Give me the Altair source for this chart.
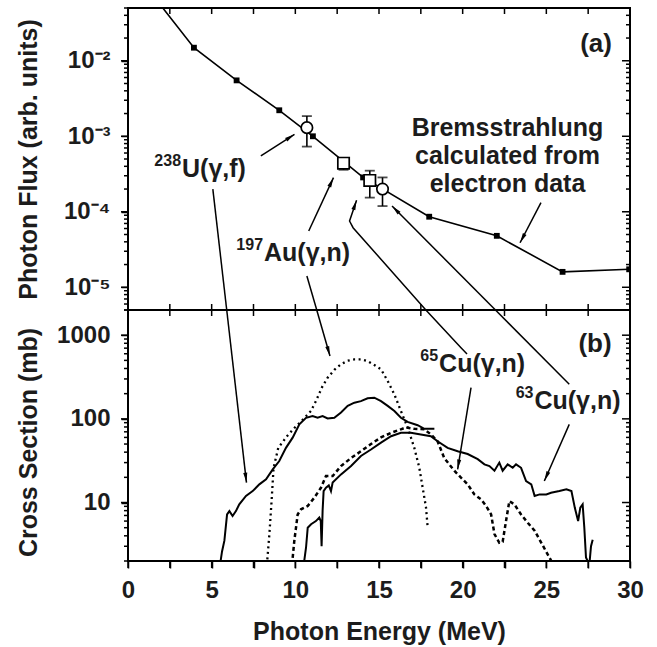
import altair as alt
import pandas as pd

FONT = "Liberation Sans"
INK = "#1c1c1c"
W, H_TOP, H_BOT = 502, 302, 251

# ---------------- panel (a): photon flux ----------------
brems_E = [1.8, 3.94, 6.49, 9.04, 11.05, 14.05, 18.0, 22.04, 25.97, 29.95]
brems_F = [0.06, 0.0149, 0.0055, 0.00221, 0.00100, 2.85e-4, 8.6e-5, 4.8e-5, 1.6e-5, 1.73e-5]
brems_marker = [False, True, True, True, True, True, True, True, True, True]

act_name = ["238U(γ,f)", "197Au(γ,n)", "65Cu(γ,n)", "63Cu(γ,n)"]
act_E = [10.69, 12.88, 14.45, 15.21]
act_F = [1.30e-3, 4.4e-4, 2.6e-4, 2.0e-4]
act_lo = [7.3e-4, 3.6e-4, 1.54e-4, 1.19e-4]
act_hi = [1.85e-3, 5.1e-4, 3.5e-4, 2.85e-4]
act_shape = ["circle", "square", "square", "circle"]

# ---------------- panel (b): cross sections ----------------
u_E = [5.50, 5.62, 5.76, 5.92, 6.06, 6.25, 6.45, 6.65, 7.05, 7.45, 7.85, 8.25, 8.65, 9.04,
       9.44, 9.84, 10.24, 10.64, 11.03, 11.33, 11.63, 11.93, 12.33, 12.73, 13.13, 13.53,
       13.92, 14.32, 14.72, 15.12, 15.52, 15.92, 16.31, 16.71, 17.31, 17.71, 18.31]
u_S = [1.8, 2.6, 3.5, 7.2, 7.9, 6.9, 7.9, 9.5, 12.0, 13.7, 16.5, 18.9, 24.9, 31.3,
       45, 59.6, 86, 103, 108, 103, 108, 101, 103, 119, 143, 156,
       163, 176, 179, 163, 143, 124, 103, 92, 84, 76, 76]

au_E = [8.30, 8.45, 8.58, 8.70, 8.98, 9.5, 10.0, 10.5, 10.93, 11.23, 11.6, 11.93, 12.33,
        12.73, 13.13, 13.53, 13.92, 14.32, 14.72, 15.12, 15.52, 15.92, 16.31, 16.71,
        17.11, 17.41, 17.61, 17.81, 17.91]
au_S = [1.8, 4.2, 10.4, 26, 45, 62, 80, 100, 124, 163, 240, 310, 385,
        449, 495, 514, 515, 490, 440, 391, 283, 196, 124, 79,
        45, 26, 15, 8.7, 5.0]

cu65_E = [9.80, 9.94, 10.14, 10.34, 10.74, 11.13, 11.53, 11.83, 12.23, 12.73, 13.33, 13.92,
          14.52, 15.12, 15.72, 16.31, 16.61, 17.11, 17.71, 18.11, 18.5, 18.9, 19.5, 19.9,
          20.3, 20.7, 21.1, 21.4, 21.7, 21.9, 22.19, 22.39, 22.59, 22.79, 23.09, 23.49,
          23.9, 24.3, 24.7, 25.08, 25.3]
cu65_S = [1.8, 3.5, 7.2, 8.3, 9.1, 11.4, 15, 20.7, 20.7, 27.3, 34, 41,
          50, 60, 68, 75, 79, 76, 75, 65, 54, 34, 24, 19.8,
          16.5, 12.5, 10.9, 9.1, 7.2, 4.2, 3.3, 3.4, 6.0, 10.4, 9.5, 7.2,
          5.7, 4.6, 3.3, 2.4, 2.0]

cu63_E = [10.50, 10.64, 10.74, 10.94, 11.23, 11.43, 11.52, 11.57, 11.63, 11.69, 11.83, 12.0,
          12.13, 12.23, 12.73, 13.33, 13.92, 14.52, 15.12, 15.72, 16.31, 16.9, 17.5, 18.1,
          18.5, 19.1, 19.7, 20.3, 20.9, 21.3, 21.6, 21.9, 22.19, 22.39, 22.69, 22.99,
          23.19, 23.49, 23.79, 24.1, 24.3, 24.6, 25.0, 25.28, 25.78, 26.2, 26.5, 26.7,
          26.9, 27.03, 27.17, 27.27, 27.37, 27.57, 27.67, 27.77]
cu63_S = [1.8, 2.9, 5.0, 5.5, 6.0, 6.6, 6.0, 3.0, 8.0, 13.7, 15, 16,
          13.7, 17.3, 21.7, 27.3, 36, 43, 52, 62, 68, 68, 65, 62,
          54, 45, 41, 38, 33, 28.6, 27.3, 24, 30, 24, 28.6, 26,
          28.6, 26, 18, 16.5, 12, 12.5, 12.5, 13.1, 13.7, 14.4, 13.7, 8.7,
          6.0, 8.7, 9.5, 5.0, 2.2, 1.8, 3.0, 3.6]

# ---------------- annotations ----------------
top_text = ["(a)", "Bremsstrahlung", "calculated from", "electron data"]
top_text_E = [27.97, 22.68, 22.68, 22.68]
top_text_F = [0.0165, 1.30e-3, 5.48e-4, 2.35e-4]
top_text_size = [26, 25, 25, 25]

top_iso = ["U(γ,f)", "Au(γ,n)"]
top_iso_mass = ["238", "197"]
top_iso_E = [3.23, 8.13]
top_iso_F = [3.69e-4, 2.85e-5]

bot_iso = ["Cu(γ,n)", "Cu(γ,n)"]
bot_iso_mass = ["65", "63"]
bot_iso_E = [18.59, 24.29]
bot_iso_S = [449, 163]

bot_text = ["(b)"]
bot_text_E = [27.91]
bot_text_S = [778]

top_arrow_id = ["U1", "U1", "U2", "U2", "Au1", "Au1", "Au2", "Au2",
                "C65", "C65", "C65", "C65", "C63", "C63", "Br", "Br"]
top_arrow_E = [7.94, 9.95, 5.07, 5.90, 10.80, 12.28, 10.69, 11.28,
               17.80, 13.45, 13.24, 13.66, 21.96, 15.78, 24.68, 23.43]
top_arrow_F = [5.48e-4, 1.06e-3, 1.99e-4, 5e-6, 5.56e-5, 2.83e-4, 1.41e-5, 5e-6,
               5e-6, 6.15e-5, 7.55e-5, 1.42e-4, 5e-6, 1.19e-4, 1.32e-4, 3.89e-5]
top_head_E = [9.95, 12.28, 13.66, 15.78, 23.43]
top_head_F = [1.06e-3, 2.83e-4, 1.42e-4, 1.19e-4, 3.89e-5]
top_head_angle = [57, 25, 19, 315, 208]

bot_arrow_id = ["U2", "U2", "Au2", "Au2", "C65", "C65", "C65", "C65b", "C65b",
                "C63", "C63", "C63b", "C63b"]
bot_arrow_E = [5.90, 7.08, 11.28, 12.07, 17.80, 19.90, 20.26, 20.50, 19.70,
               21.96, 26.37, 26.37, 24.88]
bot_arrow_S = [2000, 17.3, 2000, 564, 2000, 709, 596, 236, 24.9,
               2000, 259, 86, 18.1]
bot_head_E = [7.08, 12.07, 19.70, 24.88]
bot_head_S = [17.3, 564, 24.9, 18.1]
bot_head_angle = [173, 164, 189, 204]

HEAD = "M0,0L0.45,2.2L-0.45,2.2Z"

# ---------------- tick values ----------------
x_ticks = [0, 2.5, 5, 7.5, 10, 12.5, 15, 17.5, 20, 22.5, 25, 27.5, 30]
mant = [1, 2, 3, 4, 5, 6, 7, 8, 9]
top_major = [1e-5, 1e-4, 1e-3, 1e-2]
top_minor = [m * d for d in [1e-6, 1e-5, 1e-4, 1e-3, 1e-2] for m in mant[1:]
             if 4.99e-6 <= m * d <= 5.01e-2]
bot_major = [10, 100, 1000]
bot_minor = [m * d for d in [1, 10, 100, 1000] for m in mant[1:] if 2 <= m * d <= 2000]

xs = alt.Scale(domain=[0, 30], nice=False, zero=False)
yts = alt.Scale(type="log", domain=[5e-6, 5e-2], nice=False)
ybs = alt.Scale(type="log", domain=[2, 2000], nice=False)

top_lab = ("datum.value < 5e-5 ? '10⁻⁵' : datum.value < 5e-4 ? '10⁻⁴' : "
           "datum.value < 5e-3 ? '10⁻³' : '10⁻²'")

AX_TY = alt.Axis(orient="left", values=top_major, tickSize=7, labelExpr=top_lab,
                 labelPadding=11, labelOverlap=False, labelFlush=False,
                 title="Photon Flux (arb. units)", titleX=-92, titleBaseline="alphabetic")
AX_BX = alt.Axis(orient="bottom", values=x_ticks, tickSize=7, labelPadding=10,
                 labelExpr="datum.value % 5 == 0 ? format(datum.value, 'd') : ''",
                 labelOverlap=False, labelFlush=False,
                 title="Photon Energy (MeV)", titleY=78, titleBaseline="alphabetic")
AX_BY = alt.Axis(orient="left", values=bot_major, tickSize=7, format="d",
                 labelPadding=11, labelOverlap=False, labelFlush=False,
                 title="Cross Section (mb)", titleX=-92, titleY=132,
                 titleBaseline="alphabetic")


def X(axis=None, field="E"):
    return alt.X(f"{field}:Q", scale=xs, axis=axis)


def YT(axis=None, field="F"):
    return alt.Y(f"{field}:Q", scale=yts, axis=axis)


def YB(axis=None, field="S"):
    return alt.Y(f"{field}:Q", scale=ybs, axis=axis)


def y_ticks(vals, yenc, x0, x1):
    return alt.Chart(pd.DataFrame({"v": vals})).mark_rule(
        color="black", strokeWidth=1.5).encode(
        y=yenc(field="v"), x=alt.value(x0), x2=alt.value(x1))


def x_ticks_at(y0, y1):
    return alt.Chart(pd.DataFrame({"v": x_ticks})).mark_rule(
        color="black", strokeWidth=1.5).encode(
        x=X(field="v"), y=alt.value(y0), y2=alt.value(y1))


# ---------------- panel (a) ----------------
df_brems = pd.DataFrame({"E": brems_E, "F": brems_F, "m": brems_marker})
df_act = pd.DataFrame({"name": act_name, "E": act_E, "F": act_F, "lo": act_lo,
                       "hi": act_hi, "shape": act_shape})
df_caps = pd.DataFrame({"E": act_E + act_E, "F": act_lo + act_hi})
df_ttext = pd.DataFrame({"t": top_text, "E": top_text_E, "F": top_text_F, "s": top_text_size})
df_tiso = pd.DataFrame({"t": top_iso, "m": top_iso_mass, "E": top_iso_E, "F": top_iso_F})
df_tarr = pd.DataFrame({"id": top_arrow_id, "k": list(range(len(top_arrow_id))),
                        "E": top_arrow_E, "F": top_arrow_F})
df_thead = pd.DataFrame({"E": top_head_E, "F": top_head_F, "a": top_head_angle})

brems_line = alt.Chart(df_brems).mark_line(color="black", strokeWidth=1.6, clip=True).encode(
    x=X(), y=YT(AX_TY))
brems_sq = alt.Chart(df_brems).transform_filter("datum.m").mark_square(
    color="black", size=34, opacity=1, clip=True).encode(x=X(), y=YT())
err = alt.Chart(df_act).mark_rule(color="black", strokeWidth=1.6).encode(
    x=X(), y=YT(field="lo"), y2="hi:Q")
caps = alt.Chart(df_caps).mark_tick(color="black", orient="horizontal", size=10,
                                    thickness=1.8).encode(x=X(), y=YT())
pts = alt.Chart(df_act).mark_point(filled=True, fill="white", stroke="black", strokeWidth=1.7,
                                   size=130, opacity=1).encode(
    x=X(), y=YT(), shape=alt.Shape("shape:N", scale=None))
t_arrows = alt.Chart(df_tarr).mark_line(color="black", strokeWidth=1.5, clip=True).encode(
    x=X(), y=YT(), detail="id:N", order="k:Q")
t_heads = alt.Chart(df_thead).mark_point(shape=HEAD, filled=True, color="black", size=81,
                                         opacity=1, clip=True).encode(
    x=X(), y=YT(), angle=alt.Angle("a:Q", scale=None))
t_text = alt.Chart(df_ttext).mark_text(font=FONT, fontWeight="bold", color=INK,
                                       align="center", baseline="middle").encode(
    x=X(), y=YT(), text="t:N", size=alt.Size("s:Q", scale=None))
t_iso = alt.Chart(df_tiso).mark_text(font=FONT, fontWeight="bold", color=INK, fontSize=25,
                                     align="left", baseline="middle").encode(
    x=X(), y=YT(), text="t:N")
t_iso_m = alt.Chart(df_tiso).mark_text(font=FONT, fontWeight="bold", color=INK, fontSize=16,
                                       align="right", baseline="middle", dx=-1, dy=-8).encode(
    x=X(), y=YT(), text="m:N")

top_ticks = [
    y_ticks(top_major, YT, -7, 0), y_ticks(top_minor, YT, -4, 0),
    y_ticks(top_major, YT, W - 8, W), y_ticks(top_minor, YT, W - 4, W),
    x_ticks_at(0, 6), x_ticks_at(H_TOP - 6, H_TOP),
]

top = alt.layer(brems_line, brems_sq, err, caps, pts, t_arrows, t_heads, t_text, t_iso,
                t_iso_m, *top_ticks).properties(width=W, height=H_TOP).resolve_axis(
    x="independent", y="independent")

# ---------------- panel (b) ----------------
df_u = pd.DataFrame({"E": u_E, "S": u_S})
df_au = pd.DataFrame({"E": au_E, "S": au_S})
df_65 = pd.DataFrame({"E": cu65_E, "S": cu65_S})
df_63 = pd.DataFrame({"E": cu63_E, "S": cu63_S})
df_biso = pd.DataFrame({"t": bot_iso, "m": bot_iso_mass, "E": bot_iso_E, "S": bot_iso_S})
df_btext = pd.DataFrame({"t": bot_text, "E": bot_text_E, "S": bot_text_S})
df_barr = pd.DataFrame({"id": bot_arrow_id, "k": list(range(len(bot_arrow_id))),
                        "E": bot_arrow_E, "S": bot_arrow_S})
df_bhead = pd.DataFrame({"E": bot_head_E, "S": bot_head_S, "a": bot_head_angle})

c_u = alt.Chart(df_u).mark_line(color="black", strokeWidth=2, clip=True).encode(
    x=X(AX_BX), y=YB(AX_BY))
c_63 = alt.Chart(df_63).mark_line(color="black", strokeWidth=2, clip=True).encode(
    x=X(), y=YB())
c_au = alt.Chart(df_au).mark_line(color="black", strokeWidth=2.3, strokeDash=[2, 3.5],
                                  clip=True).encode(x=X(), y=YB())
c_65 = alt.Chart(df_65).mark_line(color="black", strokeWidth=2.5, strokeDash=[4, 3],
                                  clip=True).encode(x=X(), y=YB())
b_arrows = alt.Chart(df_barr).mark_line(color="black", strokeWidth=1.5, clip=True).encode(
    x=X(), y=YB(), detail="id:N", order="k:Q")
b_heads = alt.Chart(df_bhead).mark_point(shape=HEAD, filled=True, color="black", size=81,
                                         opacity=1, clip=True).encode(
    x=X(), y=YB(), angle=alt.Angle("a:Q", scale=None))
b_text = alt.Chart(df_btext).mark_text(font=FONT, fontWeight="bold", color=INK, fontSize=26,
                                       align="center", baseline="middle").encode(
    x=X(), y=YB(), text="t:N")
b_iso = alt.Chart(df_biso).mark_text(font=FONT, fontWeight="bold", color=INK, fontSize=25,
                                     align="left", baseline="middle").encode(
    x=X(), y=YB(), text="t:N")
b_iso_m = alt.Chart(df_biso).mark_text(font=FONT, fontWeight="bold", color=INK, fontSize=16,
                                       align="right", baseline="middle", dx=-1, dy=-8).encode(
    x=X(), y=YB(), text="m:N")

bot_ticks = [
    y_ticks(bot_major, YB, -7, 0), y_ticks(bot_minor, YB, -4, 0),
    y_ticks(bot_major, YB, W - 8, W), y_ticks(bot_minor, YB, W - 4, W),
    x_ticks_at(0, 6), x_ticks_at(H_BOT, H_BOT + 7),
]

bottom = alt.layer(c_u, c_63, c_au, c_65, b_arrows, b_heads, b_text, b_iso,
                   b_iso_m, *bot_ticks).properties(width=W, height=H_BOT).resolve_axis(
    x="independent", y="independent")

chart = alt.vconcat(top, bottom, spacing=0, bounds="flush").resolve_scale(
    x="independent", y="independent").properties(
    padding={"left": 14, "top": 6, "right": 4, "bottom": 2},
    background="white").configure_view(stroke="black", strokeWidth=2).configure_axis(
    labelFont=FONT, labelFontWeight="bold", labelFontSize=24, labelColor=INK,
    titleFont=FONT, titleFontWeight="bold", titleFontSize=25, titleColor=INK,
    ticks=True, tickColor="black", tickWidth=1.5, domain=False, grid=False)

chart.save("out.html", embed_options={"renderer": "svg", "actions": False})
